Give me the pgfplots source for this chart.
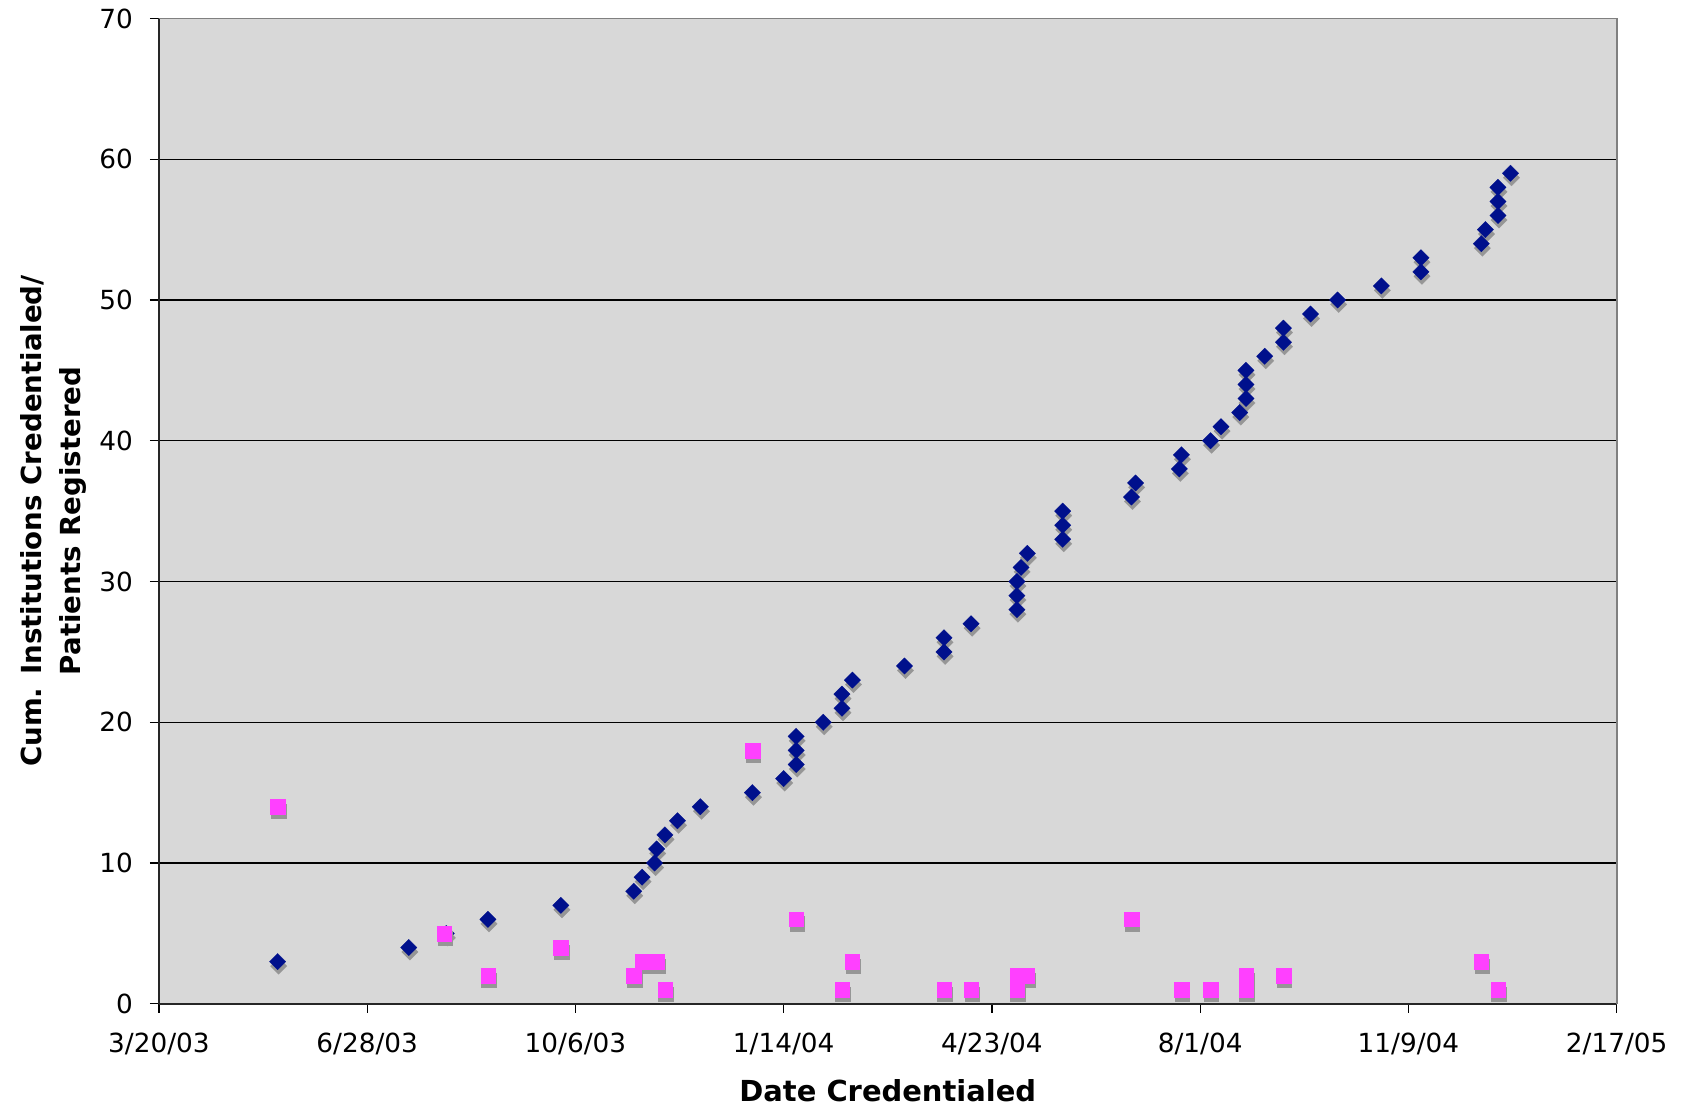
\documentclass[border=0pt]{standalone}
\usepackage{fontspec}
\setmainfont{DejaVu Sans}
\usepackage{pgfplots}
\usepackage{pgfplotstable}
\pgfplotsset{compat=1.18}
\definecolor{plotbg}{RGB}{216,216,216}
\definecolor{instblue}{RGB}{0,16,140}
\definecolor{patpink}{RGB}{255,64,255}
\definecolor{shadowgray}{RGB}{150,150,150}

% x = days since 3/20/03
\pgfplotstableread{
day count
57 3
120 4
138 5
158 6
193 7
228 8
232 9
238 10
239 11
243 12
249 13
260 14
285 15
300 16
306 17
306 18
306 19
319 20
328 21
328 22
333 23
358 24
377 25
377 26
390 27
412 28
412 29
412 30
414 31
417 32
434 33
434 34
434 35
467 36
469 37
490 38
491 39
505 40
510 41
519 42
522 43
522 44
522 45
531 46
540 47
540 48
553 49
566 50
587 51
606 52
606 53
635 54
637 55
643 56
643 57
643 58
649 59
}\institutions

\pgfplotstableread{
day count
57 14
137 5
158 2
193 4
228 2
232 3
239 3
243 1
285 18
306 6
328 1
333 3
377 1
390 1
412 1
412 2
417 2
467 6
491 1
505 1
522 1
522 2
540 2
635 3
643 1
}\patients

\begin{document}
\begin{tikzpicture}
\begin{axis}[
    scale only axis,
    width=554pt,
    height=374.5pt,
    xmin=0, xmax=700,
    ymin=0, ymax=70,
    axis x line=bottom,
    axis y line=left,
    axis line style={-, black!85, line width=0.8pt},
    axis background/.style={fill=plotbg},
    xtick={0,100,...,700},
    xticklabels={3/20/03,6/28/03,10/6/03,1/14/04,4/23/04,8/1/04,11/9/04,2/17/05},
    ytick={0,10,...,70},
    tick align=outside,
    major tick length=3.4pt,
    tick style={black, line width=0.5pt},
    ymajorgrids,
    major grid style={black, line width=0.5pt},
    tick label style={font=\fontsize{10}{12}\selectfont},
    /pgf/number format/assume math mode=true,
    xticklabel style={yshift=-4pt},
    yticklabel style={xshift=-3pt},
    xlabel={Date Credentialed},
    ylabel={Cum. Institutions Credentialed/\\Patients Registered},
    xlabel style={at={(axis description cs:0.5,-0.088)}, anchor=center,
        font=\bfseries\fontsize{11}{14}\selectfont},
    ylabel style={at={(axis description cs:-0.0725,0.49)}, anchor=center,
        align=center, font=\bfseries\fontsize{10.5}{14.8}\selectfont},
    clip=false,
]
% shadows first, then the markers
\addplot[only marks, mark=square*, mark size=2.2pt,
    mark options={yshift=-1.7pt, xshift=0.4pt, rotate=45, fill=shadowgray, draw=shadowgray, line width=0.1pt}]
    table[x=day, y=count] {\institutions};
\addplot[only marks, mark=square*, mark size=2.2pt,
    mark options={rotate=45, fill=instblue, draw=instblue, line width=0.1pt}]
    table[x=day, y=count] {\institutions};
\addplot[only marks, mark=square*, mark size=2.75pt,
    mark options={yshift=-1.7pt, xshift=0.3pt, fill=shadowgray, draw=shadowgray, line width=0.1pt}]
    table[x=day, y=count] {\patients};
\addplot[only marks, mark=square*, mark size=2.75pt,
    mark options={fill=patpink, draw=patpink, line width=0.1pt}]
    table[x=day, y=count] {\patients};
\draw[gray, line width=0.7pt] (rel axis cs:0,1) -- (rel axis cs:1,1) -- (rel axis cs:1,0);
\end{axis}
\pgfresetboundingbox
\path[use as bounding box] (-60.4pt,-39.5pt) rectangle (579.6pt,381.5pt);
\end{tikzpicture}
\end{document}
